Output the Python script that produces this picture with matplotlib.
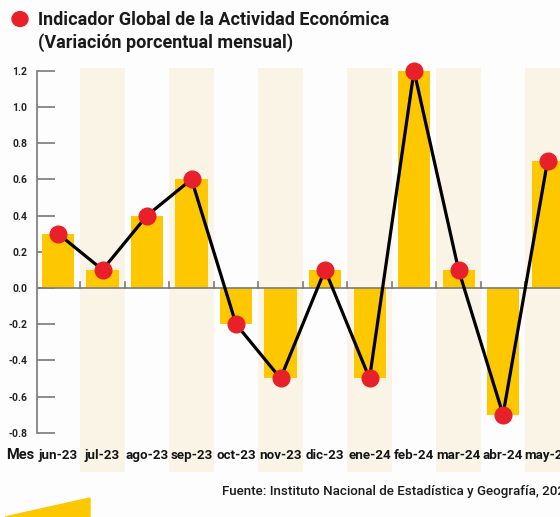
import matplotlib.pyplot as plt
from matplotlib.patches import Polygon, Circle

plt.rcParams['font.family'] = ['Roboto', 'DejaVu Sans']

# Datos
meses = ['jun-23', 'jul-23', 'ago-23', 'sep-23', 'oct-23', 'nov-23',
         'dic-23', 'ene-24', 'feb-24', 'mar-24', 'abr-24', 'may-24']
variacion = [0.3, 0.1, 0.4, 0.6, -0.2, -0.5, 0.1, -0.5, 1.2, 0.1, -0.7, 0.7]
y_ticks = [-0.8, -0.6, -0.4, -0.2, 0.0, 0.2, 0.4, 0.6, 0.8, 1.0, 1.2]

# Couleurs
amarillo = '#fec801'
rojo = '#e8202a'
beige = '#f9f4e5'

W, H = 560, 517
fig = plt.figure(figsize=(W / 100, H / 100), dpi=100)
fig.patch.set_facecolor('#fdfdfd')

# axes en pixels: x 37 -> 560, y 68 -> 472
ax = fig.add_axes([37 / W, 1 - 472 / H, (W - 37) / W, (472 - 68) / H])
ax.set_facecolor('none')
x = list(range(len(meses)))
ax.set_xlim(-0.472, 11.28)
ax.set_ylim(-1.017, 1.215)

# bandes beiges
for i in x:
    if i % 2 == 1:
        ax.axvspan(i - 0.5, i + 0.5, color=beige, zorder=0, lw=0)

ax.bar(x, variacion, width=0.72, color=amarillo, zorder=2)
ax.axhline(0, color='#7a7a7a', lw=1.2, zorder=3)
for i in x[:-1]:
    ax.plot([i + 0.5, i + 0.5], [0, 0.035], color='#7a7a7a', lw=1.2, zorder=3)

ax.plot(x, variacion, color='black', lw=2.3, zorder=4, clip_on=False)
ax.plot(x, variacion, 'o', color=rojo, markersize=12, zorder=5, clip_on=False)

# axe y
for s in ['top', 'right', 'bottom']:
    ax.spines[s].set_visible(False)
ax.spines['left'].set_bounds(-0.8, 1.2)
ax.spines['left'].set_color('#7a7a7a')
ax.spines['left'].set_linewidth(1.2)
ax.set_yticks(y_ticks)
ax.set_yticklabels(['%.1f' % v for v in y_ticks], fontsize=7.5, fontweight='bold',
                   color='#222222')
ax.tick_params(axis='y', direction='in', length=13, width=1.2, color='#7a7a7a', pad=7)
ax.set_xticks([])

# etiquettes des mois
for i, m in enumerate(meses):
    ax.text(i, -0.925, m, ha='center', va='center', fontsize=9.6, fontweight='bold',
            color='#151515', clip_on=False)
fig.text(20 / W, 1 - 455 / H, 'Mes', ha='center', va='center', fontsize=10.5,
         fontweight='bold', color='#151515')

# titre
fig.patches.append(Circle((20 / W, 1 - 19 / H), 8 / W, transform=fig.transFigure,
                          color=rojo, zorder=5))
fig.text(38 / W, 1 - 20 / H, 'Indicador Global de la Actividad Económica',
         ha='left', va='center', fontsize=13, fontweight='bold', color='#1a1a1a')
fig.text(38 / W, 1 - 43 / H, '(Variación porcentual mensual)',
         ha='left', va='center', fontsize=13, fontweight='bold', color='#1a1a1a')

# source
fig.text(222 / W, 1 - 492 / H, 'Fuente: Instituto Nacional de Estadística y Geografía, 2024',
         ha='left', va='center', fontsize=9.6, fontweight='medium', color='#1a1a1a')

# forme jaune en bas a gauche
fig.patches.append(Polygon([(5 / W, 0), (90 / W, 1 - 498 / H), (90 / W, 0)],
                           closed=True, transform=fig.transFigure, color=amarillo))

plt.savefig('out.png', dpi=100)
